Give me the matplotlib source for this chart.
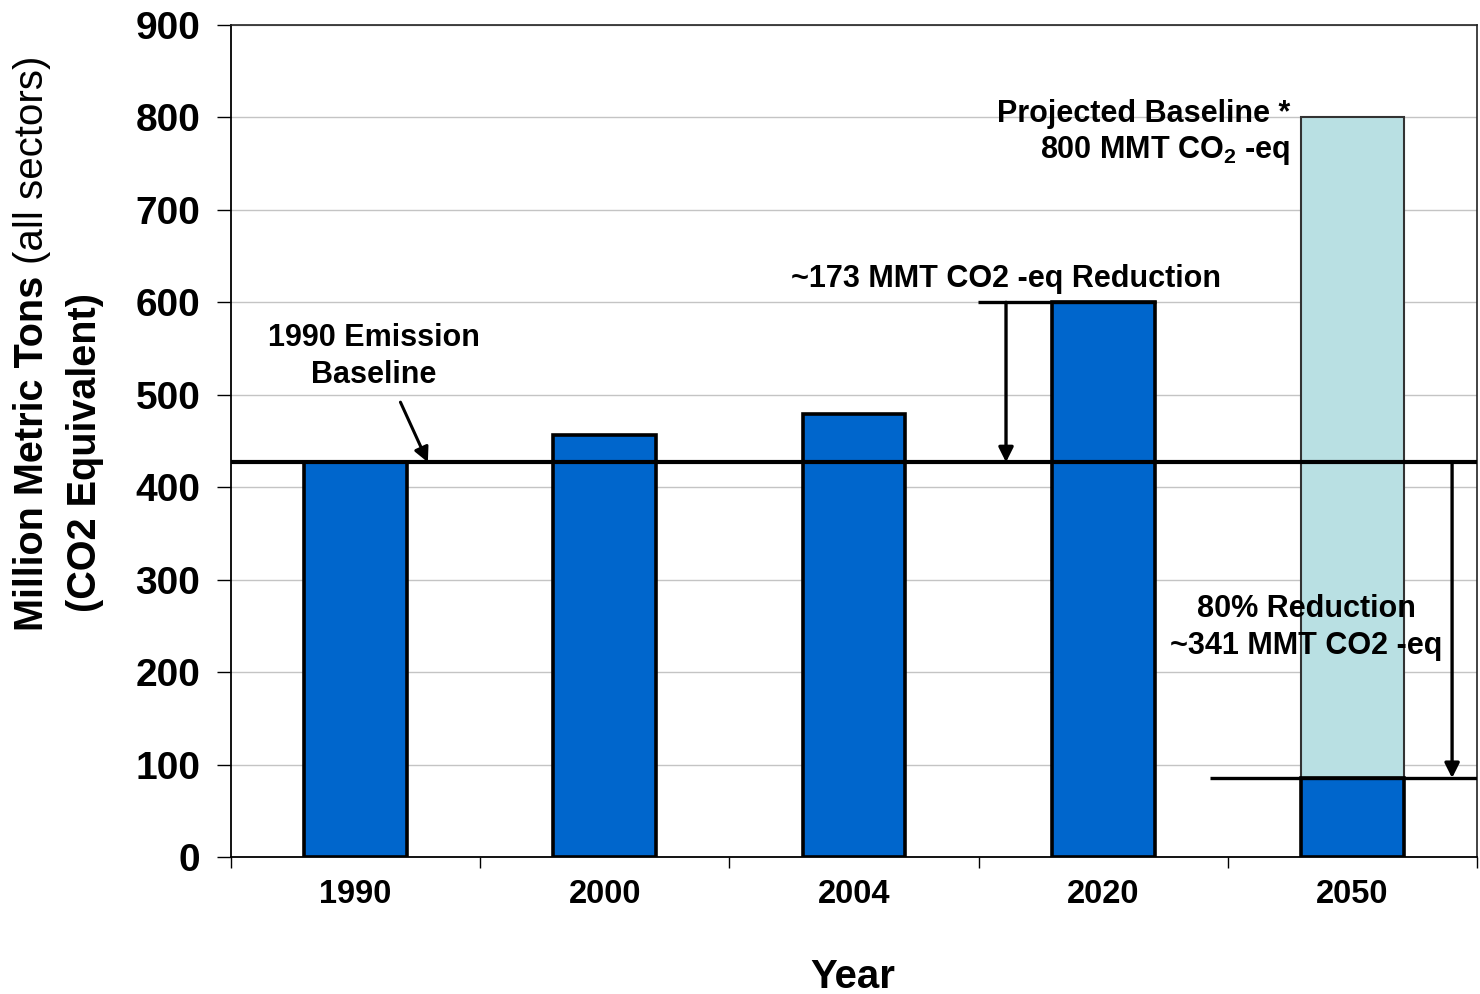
import matplotlib
matplotlib.use("Agg")
import matplotlib.pyplot as plt
from matplotlib.ticker import FixedLocator

plt.rcParams['font.family'] = ['Liberation Sans', 'DejaVu Sans']
plt.rcParams['mathtext.fontset'] = 'custom'
plt.rcParams['mathtext.rm'] = 'Liberation Sans:bold'
plt.rcParams['mathtext.bf'] = 'Liberation Sans:bold'
plt.rcParams['mathtext.it'] = 'Liberation Sans:bold'

# ---- data ----
years = ["1990", "2000", "2004", "2020", "2050"]
emissions = [427, 456, 479, 600, 85.4]      # MMT CO2-eq (actual / target)
projected_2050 = 800                          # projected baseline for 2050
baseline_1990 = 427
target_2020 = 600
target_2050 = 85.4
y_ticks = [0, 100, 200, 300, 400, 500, 600, 700, 800, 900]

BLUE = "#0066CC"
LIGHT = "#B9E0E3"

fig = plt.figure(figsize=(14.8, 9.94), dpi=100)
ax = fig.add_axes([231/1480, 1-857/994, (1477-231)/1480, (857-25)/994])

x = list(range(len(years)))
width = 0.413

# projected 2050 bar (behind)
ax.bar([x[-1]], [projected_2050], width=width, color=LIGHT, edgecolor="#333333",
       linewidth=1.5, zorder=2)
ax.bar(x, emissions, width=width, color=BLUE, edgecolor="black", linewidth=2.6, zorder=3)

ax.set_xlim(-0.5, len(years) - 0.5)
ax.set_ylim(0, 900)

# grid
ax.set_yticks(y_ticks)
ax.yaxis.grid(True, color="#C4C4C4", linewidth=1.0, zorder=0)
ax.set_axisbelow(True)

# ticks
ax.set_xticks(x)
ax.set_xticklabels(years, fontsize=23.5, fontweight="bold")
ax.xaxis.set_minor_locator(FixedLocator([i - 0.5 for i in range(len(years) + 1)]))
ax.tick_params(axis="x", which="major", length=0, pad=16)
ax.tick_params(axis="x", which="minor", length=8, width=1.0, direction="out", color="black")
ax.tick_params(axis="y", which="major", length=10, width=1.0, direction="out", pad=12,
               labelsize=28)
for lab in ax.get_yticklabels():
    lab.set_fontweight("bold")

for side in ["left", "bottom"]:
    ax.spines[side].set_linewidth(1.3)
    ax.spines[side].set_color("black")
for side in ["top", "right"]:
    ax.spines[side].set_linewidth(1.2)
    ax.spines[side].set_color("#222222")

# baseline line
ax.axhline(baseline_1990, color="black", linewidth=3.0, zorder=5)

# 2020 reduction line and arrow
ax.plot([2.498, 3.21], [target_2020, target_2020], color="black", linewidth=2.4, zorder=5,
        solid_capstyle="butt")
ax.annotate("", xy=(2.61, baseline_1990), xytext=(2.61, target_2020),
            arrowprops=dict(arrowstyle="-|>", color="black", lw=2.4,
                            mutation_scale=22, shrinkA=0, shrinkB=0), zorder=6)

# 2050 reduction line and arrow
ax.plot([3.43, 4.5], [target_2050, target_2050], color="black", linewidth=2.4, zorder=5,
        solid_capstyle="butt")
ax.annotate("", xy=(4.4, target_2050), xytext=(4.4, baseline_1990),
            arrowprops=dict(arrowstyle="-|>", color="black", lw=2.4,
                            mutation_scale=22, shrinkA=0, shrinkB=0), zorder=6)

# 1990 baseline arrow
ax.annotate("", xy=(0.29, baseline_1990), xytext=(0.18, 492),
            arrowprops=dict(arrowstyle="-|>", color="black", lw=2.2,
                            mutation_scale=22, shrinkA=0, shrinkB=0), zorder=6)

# annotation texts
ax.text(0.074, 541, "1990 Emission\nBaseline", ha="center", va="center",
        fontsize=22, fontweight="bold", linespacing=1.3, zorder=7)
ax.text(2.61, 625, "~173 MMT CO2 -eq Reduction", ha="center", va="center",
        fontsize=22, fontweight="bold", zorder=7)
ax.text(3.75, 804, "Projected Baseline *", ha="right", va="center",
        fontsize=22, fontweight="bold", zorder=7)
ax.text(3.75, 764, r"800 MMT CO$_{2}$ -eq", ha="right", va="center",
        fontsize=22, fontweight="bold", zorder=7)
ax.text(3.814, 248, "80% Reduction\n~341 MMT CO2 -eq", ha="center", va="center",
        fontsize=22, fontweight="bold", linespacing=1.3, zorder=7)

# axis labels
fig.text(853/1480, 1-977/994, "Year", ha="center", va="center",
         fontsize=29, fontweight="bold")
fig.text(32/1480, 1-453/994, "Million Metric Tons", rotation=90, ha="center", va="center",
         fontsize=28.5, fontweight="bold")
fig.text(32/1480, 1-160/994, "(all sectors)", rotation=90, ha="center", va="center",
         fontsize=29, fontweight="normal")
fig.text(85/1480, 1-452/994, "(CO2 Equivalent)", rotation=90, ha="center", va="center",
         fontsize=28.5, fontweight="bold")

fig.savefig("out.png", dpi=100)
